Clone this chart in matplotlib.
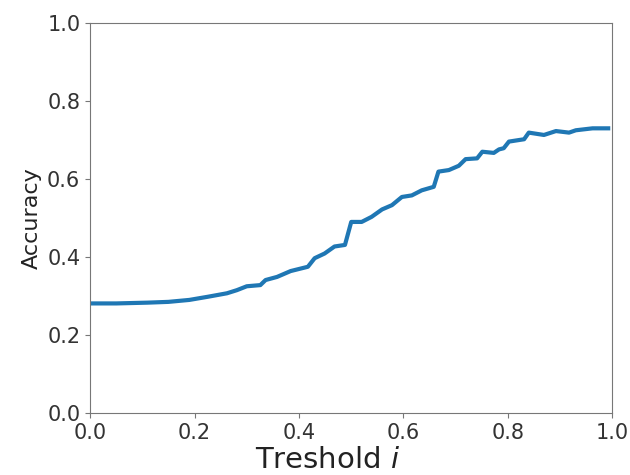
import numpy as np
import matplotlib
matplotlib.use('Agg')
import matplotlib.pyplot as plt

# threshold vs accuracy
threshold = [0.0, 0.05, 0.11, 0.15, 0.19, 0.225, 0.262, 0.281, 0.300, 0.326,
             0.336, 0.358, 0.384, 0.405, 0.417, 0.430, 0.449, 0.468, 0.488,
             0.500, 0.520, 0.539, 0.559, 0.578, 0.597, 0.616, 0.635, 0.658,
             0.667, 0.687, 0.706, 0.719, 0.741, 0.751, 0.773, 0.783, 0.792,
             0.802, 0.831, 0.840, 0.869, 0.892, 0.917, 0.930, 0.962, 0.992]
accuracy = [0.281, 0.281, 0.283, 0.285, 0.290, 0.298, 0.307, 0.315, 0.325, 0.328,
            0.341, 0.349, 0.364, 0.371, 0.375, 0.397, 0.409, 0.427, 0.431,
            0.490, 0.490, 0.503, 0.522, 0.533, 0.554, 0.558, 0.571, 0.580,
            0.619, 0.623, 0.634, 0.651, 0.653, 0.670, 0.667, 0.676, 0.679,
            0.696, 0.702, 0.719, 0.713, 0.723, 0.719, 0.725, 0.730, 0.730]

fig = plt.figure(figsize=(6.3, 4.75), dpi=100)
ax = fig.add_axes([0.143, 0.1305, 0.829, 0.821])
ax.plot(threshold, accuracy, color='#1f77b4', linewidth=3)
ax.set_xlim(0, 1)
ax.set_ylim(0, 1)
ax.set_xticks(np.arange(0, 1.01, 0.2))
ax.set_yticks(np.arange(0, 1.01, 0.2))
ax.tick_params(labelsize=15, colors='#333333')
ax.tick_params(color='#777777')
ax.set_xlabel('Treshold $i$', fontsize=21, color='#222222')
ax.xaxis.set_label_coords(0.455, -0.085)
ax.set_ylabel('Accuracy', fontsize=16, color='#222222')
for s in ax.spines.values():
    s.set_color('#777777')
fig.savefig('out.png', dpi=100)
